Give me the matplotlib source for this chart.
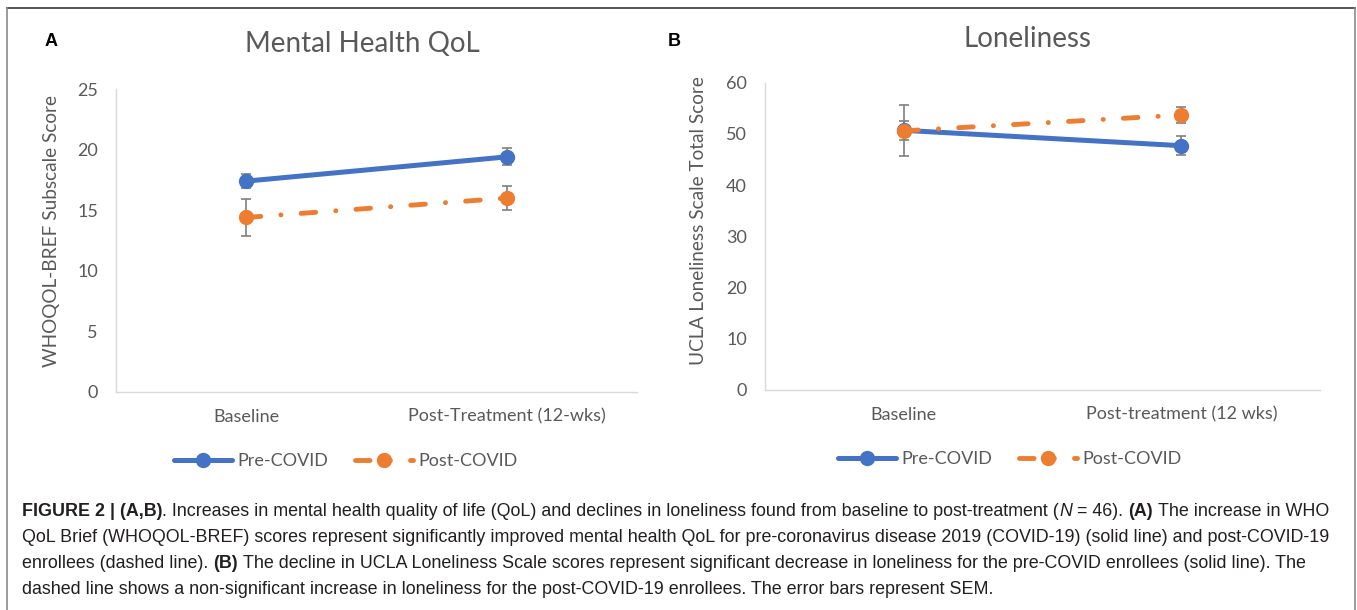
import numpy as np
import matplotlib
matplotlib.use("Agg")
import matplotlib.pyplot as plt
from matplotlib.lines import Line2D

# data
timepoints_a = ["Baseline", "Post-Treatment (12-wks)"]
timepoints_b = ["Baseline", "Post-treatment (12 wks)"]
series_names = ["Pre-COVID", "Post-COVID"]

qol_pre = [17.4, 19.4]
qol_pre_sem = [0.6, 0.7]
qol_post = [14.4, 16.0]
qol_post_sem = [1.55, 1.0]

lonely_pre = [50.7, 47.7]
lonely_pre_sem = [1.8, 1.9]
lonely_post = [50.6, 53.7]
lonely_post_sem = [5.0, 1.5]

qol_ticks = [0, 5, 10, 15, 20, 25]
lonely_ticks = [0, 10, 20, 30, 40, 50, 60]

BLUE = "#4472C4"
ORANGE = "#ED7D31"
GRAY = "#7F7F7F"
TXT = "#595959"
CHART_FONT = ["Lato", "DejaVu Sans"]
CAP_FONT = ["Liberation Sans", "DejaVu Sans"]

plt.rcParams["lines.scale_dashes"] = False
plt.rcParams["font.family"] = CHART_FONT

W, H = 1357, 610
fig = plt.figure(figsize=(W / 100, H / 100), dpi=100)


def px_axes(left, right, top, bottom):
    return fig.add_axes([left / W, 1 - bottom / H, (right - left) / W, (bottom - top) / H])


def draw_panel(ax, cats, pre, pre_err, post, post_err, ticks):
    x = np.arange(len(cats))
    ax.errorbar(x, pre, yerr=pre_err, fmt="none", ecolor=GRAY, elinewidth=1.2,
                capsize=3.6, capthick=1.2, zorder=2)
    ax.errorbar(x, post, yerr=post_err, fmt="none", ecolor=GRAY, elinewidth=1.2,
                capsize=3.6, capthick=1.2, zorder=2)
    ax.plot(x, pre, color=BLUE, lw=3.6, marker="o", ms=10, solid_capstyle="round",
            label=series_names[0], zorder=3)
    ax.plot(x, post, color=ORANGE, lw=3.5, marker="o", ms=10,
            dashes=(10.5, 14.5, 0.1, 14.5), dash_capstyle="round",
            label=series_names[1], zorder=4)
    ax.set_xlim(-0.5, len(cats) - 0.5)
    ax.set_ylim(ticks[0], ticks[-1])
    ax.set_yticks(ticks)
    ax.set_xticks(x)
    ax.set_xticklabels(cats)
    for s in ["top", "right"]:
        ax.spines[s].set_visible(False)
    for s in ["left", "bottom"]:
        ax.spines[s].set_color("#D9D9D9")
        ax.spines[s].set_linewidth(1.0)
    ax.tick_params(length=0, labelsize=13, labelcolor=TXT)
    ax.tick_params(axis="y", pad=13)
    ax.tick_params(axis="x", pad=12)


# panel A
axA = px_axes(116, 637, 89, 392)
draw_panel(axA, timepoints_a, qol_pre, qol_pre_sem, qol_post, qol_post_sem, qol_ticks)
axA.set_ylabel("WHOQOL-BREF Subscale Score", fontsize=13.7, color=TXT)
axA.yaxis.set_label_coords(-0.107, 0.53)

# panel B
axB = px_axes(765, 1320, 82.7, 390)
draw_panel(axB, timepoints_b, lonely_pre, lonely_pre_sem, lonely_post, lonely_post_sem,
           lonely_ticks)
axB.set_ylabel("UCLA Loneliness Scale Total Score", fontsize=13.7, color=TXT)
axB.yaxis.set_label_coords(-0.105, 0.553)

fig.text(362 / W, 1 - 44 / H, "Mental Health QoL", fontsize=20, color=TXT,
         ha="center", va="center")
fig.text(1028 / W, 1 - 39 / H, "Loneliness", fontsize=20, color=TXT,
         ha="center", va="center")
fig.text(45 / W, 1 - 42 / H, "A", fontsize=13, fontweight="bold", family=CAP_FONT,
         ha="left", va="center")
fig.text(668 / W, 1 - 41 / H, "B", fontsize=13, fontweight="bold", family=CAP_FONT,
         ha="left", va="center")

for ax, cx, cy in [(axA, 346, 461), (axB, 1010, 459)]:
    ax.legend(loc="center", bbox_to_anchor=(cx / W, 1 - cy / H),
              bbox_transform=fig.transFigure, ncol=2, frameon=False,
              fontsize=13, labelcolor=TXT, handlelength=3.2, handletextpad=0.3,
              columnspacing=1.5)

# frame around the figure
fig.add_artist(Line2D([7 / W, 1355 / W], [1 - 8 / H, 1 - 8 / H], color="#555555",
                      lw=1.4, transform=fig.transFigure))
fig.add_artist(Line2D([7 / W, 7 / W], [0, 1 - 8 / H], color="#8A8A8A",
                      lw=1.2, transform=fig.transFigure))
fig.add_artist(Line2D([1355 / W, 1355 / W], [0, 1 - 8 / H], color="#8A8A8A",
                      lw=1.2, transform=fig.transFigure))

# caption, drawn run by run so bold / italic parts sit inline
caption = [
    [("FIGURE 2 | (A,B)", "bold", "normal"),
     (". Increases in mental health quality of life (QoL) and declines in loneliness "
      "found from baseline to post-treatment (", "normal", "normal"),
     ("N", "normal", "italic"), (" = 46). ", "normal", "normal"),
     ("(A)", "bold", "normal"), (" The increase in WHO", "normal", "normal")],
    [("QoL Brief (WHOQOL-BREF) scores represent significantly improved mental health QoL "
      "for pre-coronavirus disease 2019 (COVID-19) (solid line) and post-COVID-19",
      "normal", "normal")],
    [("enrollees (dashed line). ", "normal", "normal"), ("(B)", "bold", "normal"),
     (" The decline in UCLA Loneliness Scale scores represent significant decrease in "
      "loneliness for the pre-COVID enrollees (solid line). The", "normal", "normal")],
    [("dashed line shows a non-significant increase in loneliness for the post-COVID-19 "
      "enrollees. The error bars represent SEM.", "normal", "normal")],
]
line_y = [512, 538, 564, 590]
renderer = fig.canvas.get_renderer()


def text_width(s, weight, style, size):
    t = fig.text(0, 0, s, fontsize=size, family=CAP_FONT, fontweight=weight,
                 fontstyle=style)
    w = t.get_window_extent(renderer).width
    t.remove()
    return w


def line_width(runs, size):
    sp = text_width("a a", "normal", "normal", size) - text_width("aa", "normal", "normal", size)
    total = 0.0
    for s, weight, style in runs:
        total += (len(s) - len(s.strip(" "))) * sp
        total += text_width(s.strip(" "), weight, style, size)
    return total


# size the caption so its first line spans the same width as in the figure
cap_size = 11.3 * 1315 / line_width(caption[0], 11.3)
space_w = text_width("a a", "normal", "normal", cap_size) - text_width("aa", "normal", "normal", cap_size)

for runs, y in zip(caption, line_y):
    x = 22.0
    for s, weight, style in runs:
        lead = len(s) - len(s.lstrip(" "))
        trail = len(s) - len(s.rstrip(" "))
        core = s.strip(" ")
        x += lead * space_w
        t = fig.text(x / W, 1 - y / H, core, fontsize=cap_size, family=CAP_FONT,
                     fontweight=weight, fontstyle=style, color="#231F20",
                     ha="left", va="center")
        x += t.get_window_extent(renderer).width + trail * space_w

fig.savefig("out.png", dpi=100)
